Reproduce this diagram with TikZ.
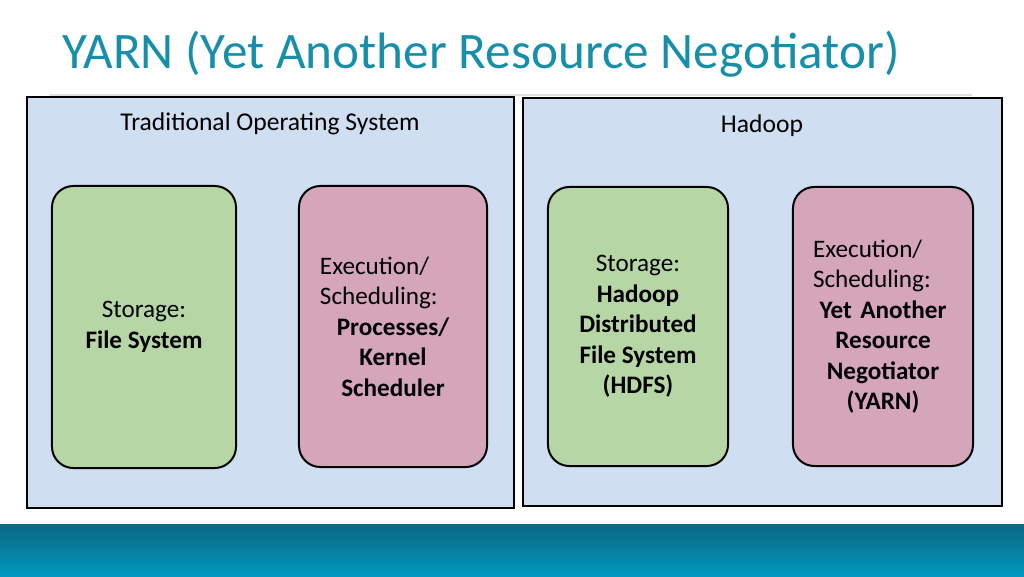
\documentclass[tikz,border=0pt]{standalone}
\usepackage{fontspec}
\setmainfont{Carlito}
\usetikzlibrary{positioning,shadows}

\definecolor{titleteal}{RGB}{23,143,170}
\definecolor{boxblue}{RGB}{207,223,241}
\definecolor{storegreen}{RGB}{183,214,165}
\definecolor{execpink}{RGB}{213,165,186}
\definecolor{bandtop}{RGB}{10,104,130}
\definecolor{bandbottom}{RGB}{2,152,192}

\tikzset{
    outerbox/.style={rectangle, draw=black, line width=1.5pt, fill=boxblue,
        drop shadow={shadow xshift=1pt, shadow yshift=-1pt, fill=black!60, opacity=0.6}},
    headtext/.style={font=\fontsize{18}{21.5}\selectfont},
    storebox/.style={rectangle, draw=black, line width=1.4pt, fill=storegreen,
        rounded corners=15pt, inner sep=0pt, align=center,
        font=\fontsize{17.7}{21.45}\selectfont},
    execbox/.style={rectangle, draw=black, line width=1.4pt, fill=execpink,
        rounded corners=15pt, inner ysep=0pt,
        font=\fontsize{17.7}{21.45}\selectfont}
}

\begin{document}
\begin{tikzpicture}[x=0.703125pt, y=-0.703125pt]
    \useasboundingbox (0,0) rectangle (1024,576);

    %Title
    \node[anchor=base west, text=titleteal, inner sep=0pt, font=\fontsize{36}{42}\selectfont]
        at (62,68) (title) {YARN (Yet Another Resource Negotiator)};
    \draw[black!12, line width=1.2pt] (50,95) -- (972,95);

    %Band
    \shade[top color=bandtop, bottom color=bandbottom] (0,524) rectangle (1024,576);

    %Outer boxes
    \node[outerbox, minimum width=342.4pt, minimum height=289pt] at (270.5,302.5) (tos) {};
    \node[outerbox, minimum width=336.8pt, minimum height=286.9pt] at (762.5,302) (hadoop) {};
    \node[headtext] at (270,124) (toslabel) {Traditional Operating System};
    \node[headtext] at (762,126) (hadooplabel) {Hadoop};

    %Inner boxes
    \node[storebox, minimum width=129.4pt, minimum height=198.3pt] at (144,327) (fs)
        {Storage:\\\textbf{File System}};
    \node[execbox, text width=102.7pt, inner xsep=14.75pt, minimum height=197.6pt] at (393,326.5) (kernel)
        {{\raggedright Execution/\\Scheduling:\par}%
         {\centering\bfseries Processes/\\Kernel\\Scheduler\par}};
    \node[storebox, minimum width=126.6pt, minimum height=196.2pt] at (638,326.5) (hdfs)
        {Storage:\\\textbf{Hadoop}\\\textbf{Distributed}\\\textbf{File System}\\\textbf{(HDFS)}};
    \node[execbox, text width=98.4pt, inner xsep=14.1pt, minimum height=196.2pt] at (883,326.5) (yarn)
        {{\raggedright Execution/\\Scheduling:\par}%
         {\centering\bfseries Yet Another\\Resource\\Negotiator\\(YARN)\par}};
\end{tikzpicture}
\end{document}
